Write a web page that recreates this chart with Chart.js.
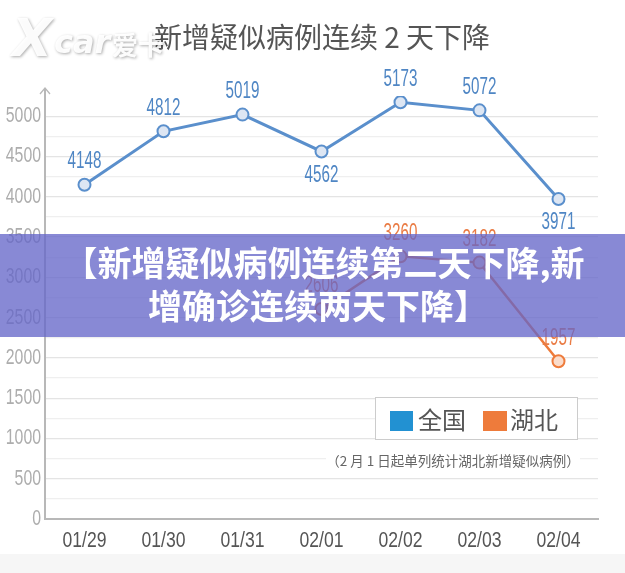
<!DOCTYPE html>
<html><head><meta charset="utf-8">
<script src="https://cdn.jsdelivr.net/npm/chart.js@4"></script>
<style>html,body{margin:0;padding:0;background:#fff;}canvas{display:block;}</style>
</head><body>
<canvas id="c" width="625" height="573"></canvas>
<script>
// ---- data ----
const categories = ['01/29','01/30','01/31','02/01','02/02','02/03','02/04'];
const nationalValues = [4148, 4812, 5019, 4562, 5173, 5072, 3971];
const hubeiValues = [null, null, null, 2606, 3260, 3182, 1957];
const seriesNames = ['全国', '湖北'];
const yMin = 0, yMax = 5250, yStep = 250, yLabelStep = 500;
const titleText = '新增疑似病例连续 2 天下降';
const noteText = '（2 月 1 日起单列统计湖北新增疑似病例）';
const bannerLines = ['【新增疑似病例连续第二天下降,新', '增确诊连续两天下降】'];
const watermarkText = ['X', 'car', '爱卡'];

// ---- styles ----
const LATIN = '"Liberation Sans","Arial",sans-serif';
const CJK = '"Noto Sans CJK SC","Noto Sans",sans-serif';
const BLUE = '#5a8fcc', BLUE_LABEL = '#4f86c4', BLUE_LEGEND = '#2291d2';
const ORANGE = '#ee7b3b', ORANGE_LABEL = '#ea7c45';
const labelBelow = [[false,false,false,true,false,false,true],[false,false,false,false,false,false,false]];

function condensedText(ctx, text, x, y, size, sx, color, align) {
  ctx.save();
  ctx.translate(x, y);
  ctx.scale(sx, 1);
  ctx.font = size + 'px ' + LATIN;
  ctx.fillStyle = color;
  ctx.textAlign = align;
  ctx.textBaseline = 'middle';
  ctx.fillText(text, 0, 0);
  ctx.restore();
}

const decor = {
  id: 'decor',
  beforeDraw(chart) {
    const ctx = chart.ctx;
    ctx.save();
    ctx.fillStyle = '#ffffff';
    ctx.fillRect(0, 0, chart.width, chart.height);
    ctx.fillStyle = '#f6f6f6';
    ctx.fillRect(0, 554, chart.width, chart.height - 554);
    ctx.restore();
  },
  afterDatasetsDraw(chart) {
    const ctx = chart.ctx;
    chart.data.datasets.forEach((ds, i) => {
      const meta = chart.getDatasetMeta(i);
      ds.data.forEach((v, j) => {
        if (v === null) return;
        const p = meta.data[j];
        const dy = labelBelow[i][j] ? 24 : -23;
        condensedText(ctx, String(v), p.x, p.y + dy, 23, 0.66, i === 0 ? BLUE_LABEL : ORANGE_LABEL, 'center');
      });
    });
  },
  afterDraw(chart) {
    const ctx = chart.ctx;
    const ca = chart.chartArea;
    const xs = chart.scales.x, ys = chart.scales.y;
    // tick labels (from the library's scales)
    ys.ticks.forEach((t) => {
      if (t.value % yLabelStep !== 0) return;
      condensedText(ctx, String(t.value), ca.left - 4, ys.getPixelForValue(t.value), 22, 0.72, '#adadad', 'right');
    });
    xs.ticks.forEach((t, i) => {
      condensedText(ctx, categories[t.value], xs.getPixelForTick(i), ca.bottom + 22, 22, 0.8, '#555555', 'center');
    });
    ctx.save();
    // axis arrow
    ctx.strokeStyle = '#b8b8b8';
    ctx.lineWidth = 2;
    ctx.beginPath();
    ctx.moveTo(ca.left, ca.top + 1);
    ctx.lineTo(ca.left, ca.top - 8);
    ctx.stroke();
    ctx.lineWidth = 1.3;
    ctx.beginPath();
    ctx.moveTo(ca.left - 5, ca.top - 2);
    ctx.lineTo(ca.left, ca.top - 8);
    ctx.lineTo(ca.left + 5, ca.top - 2);
    ctx.stroke();
    // title
    ctx.fillStyle = '#555555';
    ctx.font = '28px ' + CJK;
    ctx.textAlign = 'center';
    ctx.textBaseline = 'middle';
    ctx.fillText(titleText, 322, 37);
    // legend box
    ctx.fillStyle = '#ffffff';
    ctx.fillRect(375, 397, 203, 43);
    ctx.strokeStyle = '#cccccc';
    ctx.lineWidth = 1;
    ctx.strokeRect(375.5, 397.5, 202, 42);
    ctx.fillStyle = BLUE_LEGEND;
    ctx.fillRect(390, 411, 23, 20);
    ctx.fillStyle = ORANGE;
    ctx.fillRect(483, 411, 24, 20);
    ctx.fillStyle = '#555555';
    ctx.font = '24px ' + CJK;
    ctx.textAlign = 'left';
    ctx.fillText(seriesNames[0], 418, 420);
    ctx.fillText(seriesNames[1], 510, 420);
    // note
    ctx.fillStyle = '#ffffff';
    ctx.fillRect(326, 451, 254, 19);
    ctx.fillStyle = '#666666';
    ctx.font = '13.5px ' + CJK;
    ctx.textAlign = 'center';
    ctx.fillText(noteText, 453, 461);
    // banner
    ctx.fillStyle = 'rgba(100,102,200,0.77)';
    ctx.fillRect(0, 234, chart.width, 103);
    ctx.fillStyle = '#ffffff';
    ctx.font = 'bold 34px ' + CJK;
    ctx.textAlign = 'center';
    ctx.fillText(bannerLines[0], 324, 263);
    ctx.fillText(bannerLines[1], 318, 306);
    // watermark
    ctx.shadowColor = 'rgba(0,0,0,0.35)';
    ctx.shadowBlur = 3;
    ctx.shadowOffsetX = 1;
    ctx.shadowOffsetY = 1;
    ctx.fillStyle = 'rgba(255,255,255,0.95)';
    ctx.textAlign = 'left';
    ctx.font = 'italic bold 52px "DejaVu Sans",sans-serif';
    ctx.fillText(watermarkText[0], 12, 42);
    ctx.font = 'italic bold 32px "DejaVu Sans",sans-serif';
    ctx.fillText(watermarkText[1], 54, 45);
    ctx.font = 'bold 26px ' + CJK;
    ctx.fillText(watermarkText[2], 112, 45);
    ctx.restore();
  }
};

new Chart(document.getElementById('c'), {
  type: 'line',
  data: {
    labels: categories,
    datasets: [
      {
        label: seriesNames[0],
        data: nationalValues,
        borderColor: BLUE,
        borderWidth: 3,
        pointRadius: 6,
        pointBorderWidth: 2,
        pointBackgroundColor: '#dde6f3',
        pointBorderColor: BLUE,
        tension: 0
      },
      {
        label: seriesNames[1],
        data: hubeiValues,
        borderColor: ORANGE,
        borderWidth: 2.5,
        pointRadius: 6,
        pointBorderWidth: 2,
        pointBackgroundColor: '#fadccb',
        pointBorderColor: ORANGE,
        spanGaps: false,
        tension: 0
      }
    ]
  },
  options: {
    responsive: false,
    animation: false,
    layout: { padding: { top: 96, right: 27, bottom: 14, left: 0 } },
    plugins: { legend: { display: false }, title: { display: false }, tooltip: { enabled: false } },
    scales: {
      x: {
        offset: true,
        grid: { display: false, drawTicks: false },
        border: { display: true, color: '#b8b8b8', width: 2 },
        ticks: { display: false },
        afterFit(s) { s.height = 40; }
      },
      y: {
        min: yMin, max: yMax,
        grid: {
          drawTicks: false,
          color: (c) => {
            const v = c.tick ? c.tick.value : 0;
            if (v === yMax || v === yMin) return 'rgba(0,0,0,0)';
            return v % yLabelStep === 0 ? '#e4e4e4' : '#efefef';
          },
          lineWidth: 1.2
        },
        border: { display: true, color: '#b8b8b8', width: 2 },
        ticks: { display: false, stepSize: yStep },
        afterFit(s) { s.width = 45; }
      }
    }
  },
  plugins: [decor]
});
</script>
</body></html>
